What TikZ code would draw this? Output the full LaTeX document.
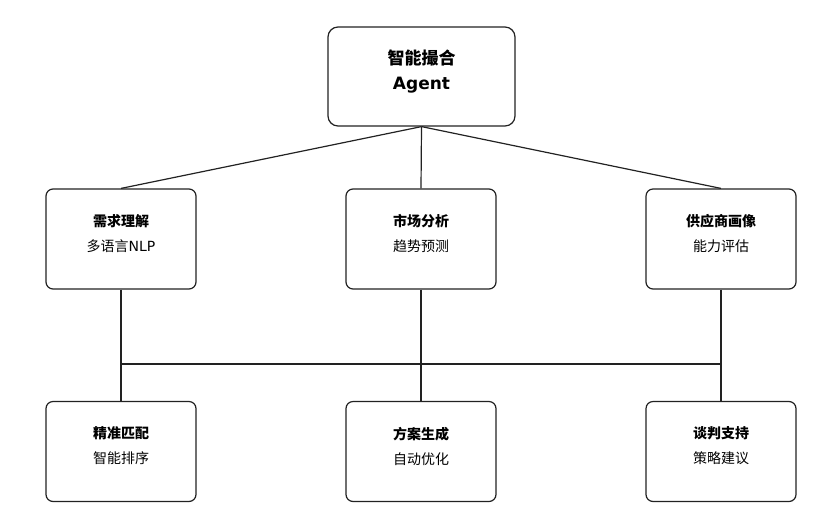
\documentclass[tikz,border=0pt]{standalone}
\usepackage{fontspec}
\setmainfont{DejaVu Sans}
\newfontfamily\cjk{Noto Sans CJK SC}
\usepackage{tikz}
\usepackage{xcolor}
\definecolor{edge}{HTML}{222222}
\tikzset{
    top-box/.style = {draw=edge, fill=white, line width=1.2pt, rectangle, rounded corners=10pt, minimum width=187pt, minimum height=99pt},
    card-box/.style = {draw=edge, fill=white, line width=1.2pt, rectangle, rounded corners=7pt, minimum width=150pt, minimum height=100pt},
    card-text/.style = {align=center, font=\fontsize{14pt}{25pt}\selectfont, inner sep=0pt},
    link/.style = {draw=edge, line width=1.2pt},
}

\begin{document}
\begin{tikzpicture}[x=1pt, y=-1pt]
\useasboundingbox (0,0) rectangle (821,531);
% boxes
\node [top-box] (agent) at (421.5,76.5) {};
\node [align=center, inner sep=0pt, font=\fontsize{17pt}{25pt}\selectfont\bfseries] (agent-t) at ([yshift=5.5pt]agent.center) {{\cjk 智能撮合}\\Agent};
\node [card-box] (need) at (121,239) {};
\node [card-box] (market) at (421,239) {};
\node [card-box] (supplier) at (721,239) {};
\node [card-box] (match) at (121,451.5) {};
\node [card-box] (plan) at (421,451.5) {};
\node [card-box] (talk) at (721,451.5) {};
\node [card-text] (need-t) at ([yshift=5.5pt]need.center) {{\cjk\bfseries 需求理解}\\{\cjk 多语言}NLP};
\node [card-text] (market-t) at ([yshift=5.5pt]market.center) {{\cjk\bfseries 市场分析}\\{\cjk 趋势预测}};
\node [card-text] (supplier-t) at ([yshift=5.5pt]supplier.center) {{\cjk\bfseries 供应商画像}\\{\cjk 能力评估}};
\node [card-text] (match-t) at ([yshift=5.5pt]match.center) {{\cjk\bfseries 精准匹配}\\{\cjk 智能排序}};
\node [card-text] (plan-t) at ([yshift=5.5pt]plan.center) {{\cjk\bfseries 方案生成}\\{\cjk 自动优化}};
\node [card-text] (talk-t) at ([yshift=5.5pt]talk.center) {{\cjk\bfseries 谈判支持}\\{\cjk 策略建议}};
% connectors
\coordinate (bus-l) at (121,364);
\coordinate (bus-r) at (721,364);
\draw [link] (agent.south) -- (need.north);
\draw [link] (agent.south) -- (market.north);
\draw [link] (agent.south) -- (supplier.north);
\draw [link] (need.south) -- (match.north);
\draw [link] (market.south) -- (plan.north);
\draw [link] (supplier.south) -- (talk.north);
\draw [link] (bus-l) -- (bus-r);
\end{tikzpicture}
\end{document}
